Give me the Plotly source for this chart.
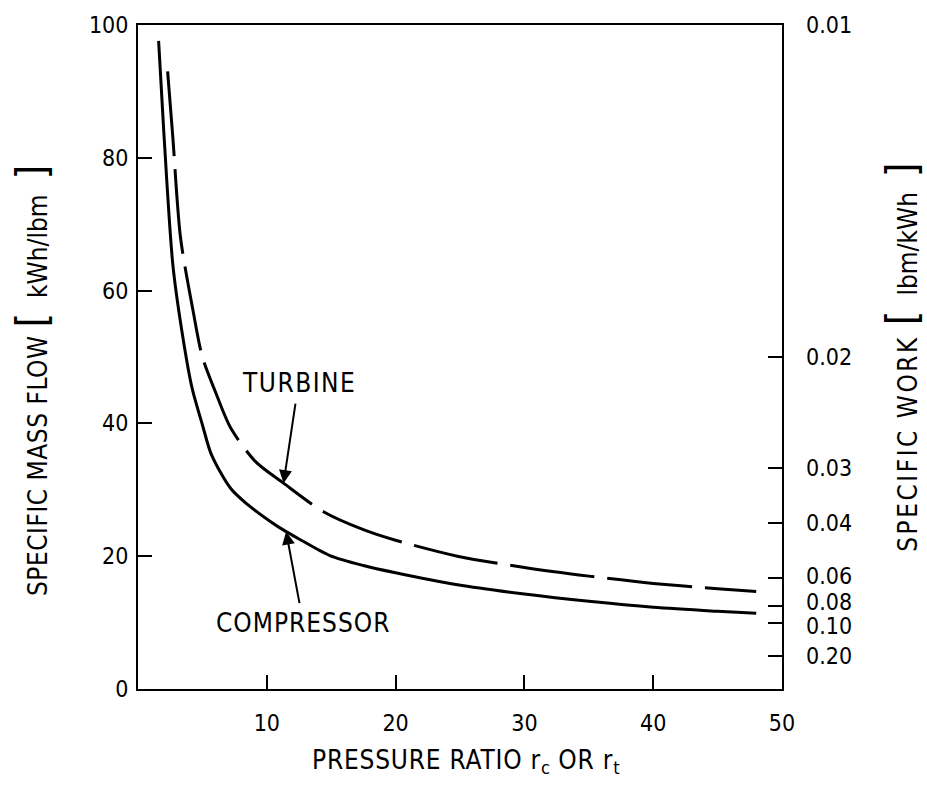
import plotly.graph_objects as go

# ---- data ----
compressor_x = [1.6, 2.0, 2.7, 3.4, 4.2, 5.0, 5.7, 7.2, 8.5, 10.3, 11.5, 12.5, 14.9, 17.5, 20, 24.8, 30, 35, 40, 45, 48]
compressor_y = [97.6, 84, 64, 54, 45.3, 39.8, 35.3, 30.2, 27.8, 25.2, 23.7, 22.6, 20.1, 18.6, 17.5, 15.7, 14.3, 13.2, 12.3, 11.7, 11.4]

turbine_x = [2.3, 2.7, 3.3, 4.3, 5.0, 6.0, 7.2, 9.15, 11.3, 14.4, 17.5, 20, 24.8, 30, 35, 40, 45, 48]
turbine_y = [93, 83.2, 68, 56.7, 50, 44.8, 39.3, 34.2, 31, 26.7, 24.0, 22.4, 20.0, 18.3, 17.0, 15.9, 15.1, 14.7]

x_ticks = [10, 20, 30, 40, 50]
y_ticks = [0, 20, 40, 60, 80, 100]
work_ticks = [0.01, 0.02, 0.03, 0.04, 0.06, 0.08, 0.10, 0.20]
work_labels = ["0.01", "0.02", "0.03", "0.04", "0.06", "0.08", "0.10", "0.20"]
work_label_shift = [0, 0, 0, 0, 2, 4, -3, 0]   # small nudges so crowded labels do not collide

TURB_IDX = 8      # point the TURBINE arrow points at
COMP_IDX = 10     # point the COMPRESSOR arrow points at

NARROW = "Liberation Sans Narrow, DejaVu Sans Condensed, Arial Narrow, sans-serif"
TICKFONT = dict(family=NARROW, size=23, color="black")
TXTFONT = dict(family=NARROW, size=26, color="black")

NB = "\u00a0"


def spaced(s, sp):
    return "<span style='letter-spacing:%spx'>%s</span>" % (sp, s)


def bracket(b):
    return "<span style='font-size:42px'>%s</span>" % b


fig = go.Figure()
fig.add_trace(go.Scatter(x=compressor_x, y=compressor_y, mode="lines",
                         line=dict(color="black", width=3, shape="spline", smoothing=0.8),
                         hoverinfo="skip", showlegend=False))
fig.add_trace(go.Scatter(x=turbine_x, y=turbine_y, mode="lines",
                         line=dict(color="black", width=3, dash="85px,13px", shape="spline", smoothing=0.8),
                         hoverinfo="skip", showlegend=False))
# invisible trace to anchor the right-hand axis
fig.add_trace(go.Scatter(x=compressor_x, y=compressor_y, mode="lines", yaxis="y2",
                         line=dict(color="rgba(0,0,0,0)", width=0), hoverinfo="skip", showlegend=False))

fig.update_layout(
    width=927, height=792,
    margin=dict(l=138, r=145, t=23, b=103),
    paper_bgcolor="white", plot_bgcolor="white",
    xaxis=dict(range=[0, 50], tickvals=x_ticks, ticktext=[str(v) for v in x_ticks],
               ticks="inside", ticklen=14, tickwidth=2, tickcolor="black",
               showline=True, linecolor="black", linewidth=2, mirror=True,
               showgrid=False, zeroline=False, tickfont=TICKFONT, ticklabelstandoff=12),
    yaxis=dict(range=[0, 100], tickvals=y_ticks, ticktext=[str(v) for v in y_ticks],
               ticks="inside", ticklen=14, tickwidth=2, tickcolor="black",
               showline=True, linecolor="black", linewidth=2,
               showgrid=False, zeroline=False, tickfont=TICKFONT, ticklabelstandoff=3),
    yaxis2=dict(range=[0, 100], overlaying="y", side="right",
                tickvals=[1.0 / w for w in work_ticks], ticktext=["" for _ in work_ticks],
                ticks="inside", ticklen=14, tickwidth=2, tickcolor="black",
                showline=True, linecolor="black", linewidth=2,
                showgrid=False, zeroline=False, tickfont=TICKFONT),
)

annotations = [
    dict(text=spaced("PRESSURE" + NB + "RATIO" + NB + "r", 0.8) + "<sub>c</sub>"
         + spaced(NB + "OR" + NB + "r", 0.8) + "<sub>t</sub>",
         xref="paper", yref="paper", x=0.509, y=-0.1096, xanchor="center", yanchor="middle",
         showarrow=False, font=TXTFONT),
    dict(text=spaced("SPECIFIC" + NB + "MASS" + NB + "FLOW" + NB, 0.5) + bracket("[")
         + NB * 2 + "kWh/lbm" + NB * 2 + bracket("]"),
         xref="paper", yref="paper", x=-0.165, y=0.465, xanchor="center", yanchor="middle",
         textangle=-90, showarrow=False, font=TXTFONT),
    dict(text=spaced("SPECIFIC" + NB + "WORK" + NB, 2.5) + bracket("[")
         + NB * 2 + "lbm/kWh" + NB * 2 + bracket("]"),
         xref="paper", yref="paper", x=1.186, y=0.5, xanchor="center", yanchor="middle",
         textangle=-90, showarrow=False, font=TXTFONT),
    dict(text=spaced("TURBINE", 1.5), x=turbine_x[TURB_IDX], y=turbine_y[TURB_IDX], xref="x", yref="y",
         ax=15, ay=-100, showarrow=True, arrowhead=2, arrowsize=1.3, arrowwidth=2, arrowcolor="black",
         standoff=0, startstandoff=4, font=TXTFONT),
    dict(text=spaced("COMPRESSOR", 1), x=compressor_x[COMP_IDX], y=compressor_y[COMP_IDX], xref="x", yref="y",
         ax=17, ay=91, showarrow=True, arrowhead=2, arrowsize=1.3, arrowwidth=2, arrowcolor="black",
         standoff=0, startstandoff=3, font=TXTFONT),
]
for w, lab, sh in zip(work_ticks, work_labels, work_label_shift):
    annotations.append(dict(text=lab, xref="paper", yref="y2", x=1.0, y=1.0 / w,
                            xanchor="left", yanchor="middle", xshift=22, yshift=sh,
                            showarrow=False, font=TICKFONT))
fig.update_layout(annotations=annotations)

fig.write_html("out.html")
